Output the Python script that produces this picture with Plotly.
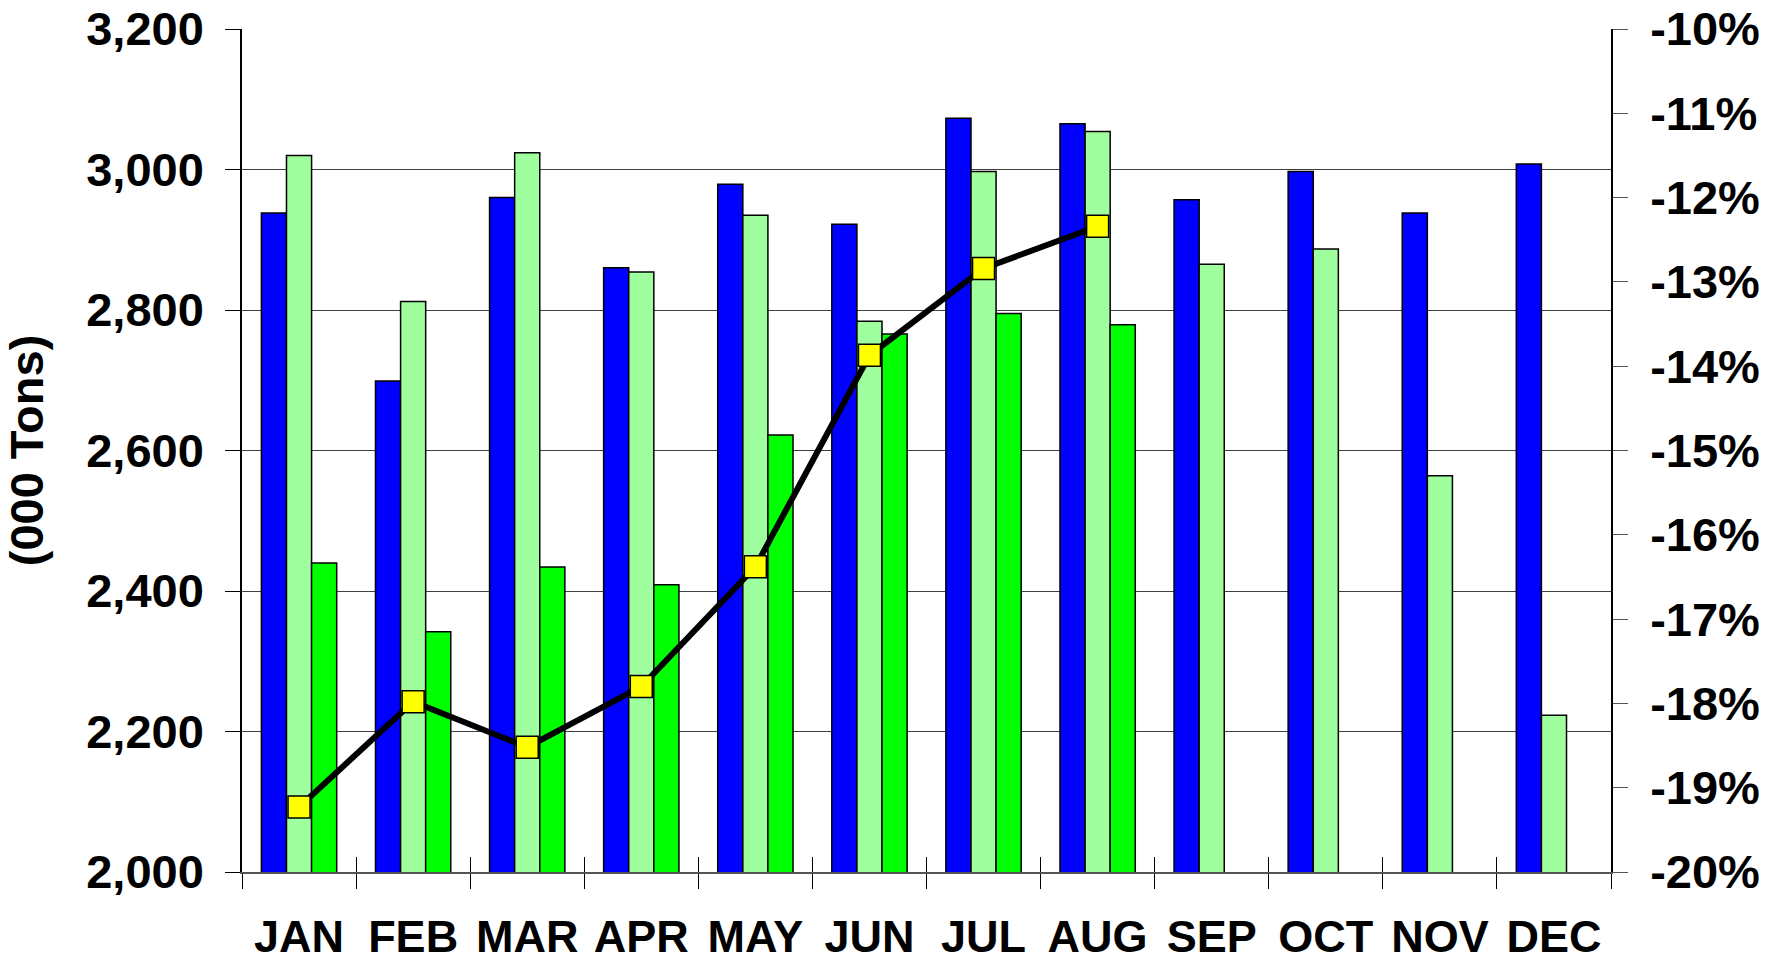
import plotly.graph_objects as go

months = ["JAN", "FEB", "MAR", "APR", "MAY", "JUN", "JUL", "AUG", "SEP", "OCT", "NOV", "DEC"]
series_blue = [2938, 2699, 2960, 2860, 2979, 2922, 3073, 3065, 2957, 2997, 2938, 3008]
series_lightgreen = [3020, 2812, 3024, 2854, 2935, 2784, 2997, 3054, 2865, 2887, 2564, 2223]
series_green = [2440, 2342, 2434, 2409, 2622, 2766, 2795, 2779, None, None, None, None]
pct_change = [-19.23, -17.98, -18.52, -17.80, -16.38, -13.87, -12.84, -12.34, None, None, None, None]
left_ticks = [2000, 2200, 2400, 2600, 2800, 3000, 3200]
right_ticks = [-20, -19, -18, -17, -16, -15, -14, -13, -12, -11, -10]

FONT = "Liberation Sans, Arial, sans-serif"
bar_line = dict(color="black", width=1.5)

fig = go.Figure()
fig.add_trace(go.Bar(x=months, y=series_blue, marker=dict(color="#0000FF", line=bar_line), showlegend=False))
fig.add_trace(go.Bar(x=months, y=series_lightgreen, marker=dict(color="#9FFF9F", line=bar_line), showlegend=False))
fig.add_trace(go.Bar(x=months, y=series_green, marker=dict(color="#00FF00", line=bar_line), showlegend=False))
fig.add_trace(go.Scatter(x=months, y=pct_change, yaxis="y2", mode="lines+markers",
                         line=dict(color="black", width=6),
                         marker=dict(symbol="square", size=22, color="#FFFF00",
                                     line=dict(color="black", width=1.5)),
                         showlegend=False))
# helper trace for inside category ticks
fig.add_trace(go.Scatter(x=months, y=[None] * 12, xaxis="x2", showlegend=False, hoverinfo="skip"))

fig.update_layout(
    width=1777, height=962,
    margin=dict(l=242, r=166, t=29, b=90, pad=0),
    paper_bgcolor="white", plot_bgcolor="white",
    barmode="group", bargap=0.34, bargroupgap=0,
    font=dict(family=FONT, size=46, color="black", weight="bold"),
    xaxis=dict(type="category", categoryarray=months, range=[-0.5, 11.5],
               showline=True, linecolor="#555555", linewidth=1.5,
               ticks="outside", tickson="boundaries", ticklen=15, tickwidth=1, tickcolor="black",
               showgrid=False, ticklabelstandoff=24, tickangle=0, automargin=False,
               tickfont=dict(family=FONT, size=45, color="black", weight="bold")),
    xaxis2=dict(type="category", categoryarray=months, range=[-0.5, 11.5], overlaying="x",
                anchor="y", side="bottom", showline=False,
                ticks="inside", tickson="boundaries", ticklen=15, tickwidth=1, tickcolor="black",
                showticklabels=False, showgrid=False),
    yaxis=dict(range=[2000, 3200], tickvals=left_ticks, tickformat=",d",
               showline=True, linecolor="black", linewidth=1.5,
               ticks="outside", ticklen=15, tickwidth=1, tickcolor="black",
               showgrid=True, gridcolor="#404040", gridwidth=1.2, zeroline=False,
               ticklabelstandoff=12, automargin=False, ticklabeloverflow="allow",
               tickfont=dict(family=FONT, size=47, color="black", weight="bold"),
               title=dict(text="(000 Tons)", standoff=28,
                          font=dict(family=FONT, size=47, color="black", weight="bold"))),
    yaxis2=dict(range=[-20, -10], overlaying="y", side="right", anchor="x",
                tickvals=right_ticks, ticktext=["%d%%" % v for v in right_ticks],
                showline=True, linecolor="black", linewidth=1.5,
                ticks="outside", ticklen=15, tickwidth=1, tickcolor="#555555",
                showgrid=False, zeroline=False, ticklabelstandoff=13, automargin=False,
                ticklabeloverflow="allow",
                tickfont=dict(family=FONT, size=47, color="black", weight="bold")),
)

fig.write_html("out.html", config={"displayModeBar": False},
               post_script="document.body.style.margin='0';document.body.style.overflow='hidden';")
